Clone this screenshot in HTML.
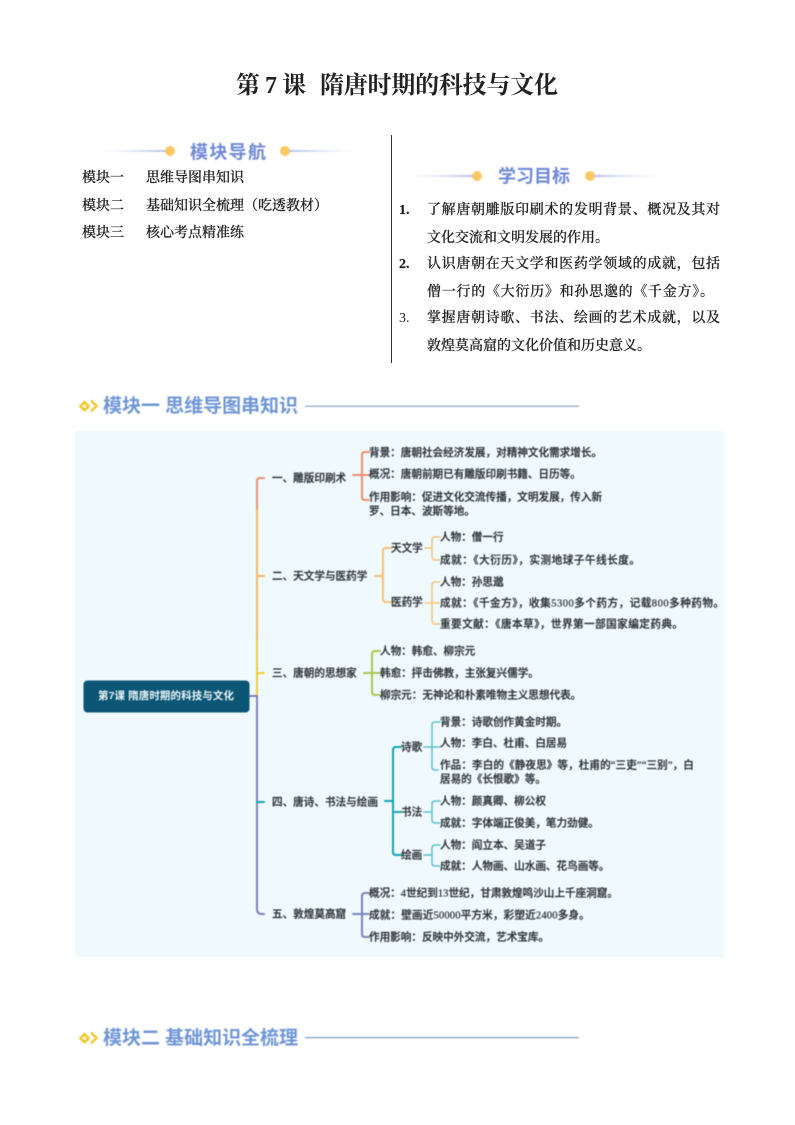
<!DOCTYPE html>
<html lang="zh-CN">
<head>
<meta charset="utf-8">
<title>第 7 课 隋唐时期的科技与文化</title>
<style>
html,body{margin:0;padding:0;background:#fff;width:795px;height:1125px;overflow:hidden}
svg{display:block;position:absolute;left:0;top:0}
text{dominant-baseline:central}
.title{font-family:"Liberation Serif","Noto Serif CJK SC",serif;font-size:24px;font-weight:700;fill:#222;transform:translateY(1px)}
.s{font-family:"Liberation Serif","Noto Serif CJK SC",serif;font-size:14px;fill:#222;font-weight:500;stroke:#222;stroke-width:.2;transform:translateY(1.7px)}
.h{font-family:"Liberation Sans","Noto Sans CJK SC",sans-serif;font-size:18px;font-weight:700;fill:#7089d8;transform:translateY(.5px)}
.sec{font-family:"Liberation Sans","Noto Sans CJK SC",sans-serif;font-size:19px;font-weight:700;fill:#6f96d6;transform:translateY(.6px)}
.m{font-family:"Liberation Serif","Noto Sans CJK SC",sans-serif;font-size:10.6px;font-weight:500;fill:#2a2f33;stroke:#2a2f33;stroke-width:.22;transform:translateY(1px)}
.r{font-family:"Liberation Sans","Noto Sans CJK SC",sans-serif;font-size:10.5px;font-weight:700;fill:#eef6fa}
.c{fill:none;stroke-width:2;stroke-linecap:round}
.t{stroke-width:1.5}
.b{filter:blur(.4px)}
</style>
</head>
<body>
<svg width="795" height="1125" viewBox="0 0 795 1125" xmlns="http://www.w3.org/2000/svg">
<defs>
<linearGradient id="gl" x1="0" x2="1" y1="0" y2="0"><stop offset="0" stop-color="#dfe6f5" stop-opacity="0"/><stop offset="1" stop-color="#b0c0e6"/></linearGradient>
<linearGradient id="gr" x1="0" x2="1" y1="0" y2="0"><stop offset="0" stop-color="#b0c0e6"/><stop offset="1" stop-color="#dfe6f5" stop-opacity="0"/></linearGradient>
</defs>
<rect width="795" height="1125" fill="#fff"/>

<text class="title" x="236" y="85" textLength="70" lengthAdjust="spacing">第 7 课</text>
<text class="title" x="320" y="85" textLength="238" lengthAdjust="spacing">隋唐时期的科技与文化</text>

<!-- left nav -->
<g class="b">
<rect x="98" y="150" width="68" height="2" fill="url(#gl)"/>
<circle cx="170" cy="151" r="5" fill="#fcc862"/>
<text class="h" x="190" y="152" textLength="76">模块导航</text>
<circle cx="285" cy="151" r="5" fill="#fcc862"/>
<rect x="289" y="150" width="72" height="2" fill="url(#gr)"/>
</g>
<text class="s" x="82" y="177">模块一</text><text class="s" x="146" y="177">思维导图串知识</text>
<text class="s" x="82" y="205">模块二</text><text class="s" x="146" y="205">基础知识全梳理（吃透教材）</text>
<text class="s" x="82" y="232">模块三</text><text class="s" x="146" y="232">核心考点精准练</text>
<rect x="391" y="135" width="1" height="228" fill="#333"/>

<!-- right goals -->
<g class="b">
<rect x="405" y="175" width="68" height="2" fill="url(#gl)"/>
<circle cx="477" cy="176" r="5" fill="#fcc862"/>
<text class="h" x="498" y="176" textLength="72">学习目标</text>
<circle cx="590" cy="176" r="5" fill="#fcc862"/>
<rect x="594" y="175" width="72" height="2" fill="url(#gr)"/>
</g>
<text class="s" x="399" y="209" style="font-weight:700">1.</text>
<text class="s" x="427" y="209" textLength="293">了解唐朝雕版印刷术的发明背景、概况及其对</text>
<text class="s" x="427" y="237">文化交流和文明发展的作用。</text>
<text class="s" x="399" y="263" style="font-weight:700">2.</text>
<text class="s" x="427" y="263" textLength="293">认识唐朝在天文学和医药学领域的成就，包括</text>
<text class="s" x="427" y="291" textLength="287">僧一行的《大衍历》和孙思邈的《千金方》。</text>
<text class="s" x="399" y="317" style="font-weight:400;stroke-width:0">3.</text>
<text class="s" x="427" y="317" textLength="293">掌握唐朝诗歌、书法、绘画的艺术成就，以及</text>
<text class="s" x="427" y="345">敦煌莫高窟的文化价值和历史意义。</text>

<!-- section 1 heading -->
<g class="b">
<path d="M84.5 402l4.2 4.2-4.2 4.2-4.2-4.2z" fill="#fff3c0" stroke="#f3c531" stroke-width="2.4"/>
<path d="M91 400.5l5.5 5.5-5.5 5.5" fill="none" stroke="#f3c531" stroke-width="2.4"/>
<text class="sec" x="103" y="406" textLength="195">模块一 思维导图串知识</text>
<rect x="305" y="405.6" width="274" height="1.2" fill="#8aa6cc"/>
</g>

<!-- panel -->
<rect x="75" y="431" width="649" height="526" fill="#eff9fe"/>

<g class="b">
<!-- trunk -->
<path class="c" stroke="#ef8f6a" d="M264 478H260Q257 478 257 481V510"/>
<path class="c" stroke="#f5b85c" d="M257 510V640M257 576H264"/>
<path class="c" stroke="#f3cc3a" d="M257 640V696M257 677Q257 673 260 673H264" stroke-width="2.4"/>
<path class="c" stroke="#7b84ba" d="M249 696H257V909Q257 914 262 914H264"/>
<path class="c" stroke="#14a5b4" d="M257 802H264"/>
<!-- root -->
<rect x="83.5" y="680.5" width="166" height="32" rx="4" fill="#0c5574"/>
<text class="r" x="98" y="696" textLength="136">第7课 隋唐时期的科技与文化</text>

<!-- level 1 labels -->
<text class="m" x="272" y="478">一、雕版印刷术</text>
<text class="m" x="272" y="576">二、天文学与医药学</text>
<text class="m" x="272" y="673">三、唐朝的思想家</text>
<text class="m" x="272" y="802">四、唐诗、书法与绘画</text>
<text class="m" x="272" y="914">五、敦煌莫高窟</text>

<!-- 一 -->
<path class="c" stroke="#ef8f6a" d="M353 475H369M369 452H365Q362 452 362 455V497Q362 500 365 500H369"/>
<text class="m" x="369" y="452.5">背景：唐朝社会经济发展，对精神文化需求增长。</text>
<text class="m" x="369" y="474">概况：唐朝前期已有雕版印刷书籍、日历等。</text>
<text class="m" x="369" y="497">作用影响：促进文化交流传播，文明发展，传入新</text>
<text class="m" x="369" y="511">罗、日本、波斯等地。</text>

<!-- 二 -->
<path class="c" stroke="#f5c27a" d="M375 576H383M391 548H386Q383 548 383 551V599Q383 602 386 602H391"/>
<text class="m" x="391" y="548">天文学</text>
<text class="m" x="391" y="602">医药学</text>
<path class="c t" stroke="#f5c27a" d="M425 548H432M440 537H435Q432 537 432 540V557Q432 560 435 560H440"/>
<path class="c t" stroke="#f5c27a" d="M425 603H440M440 582H435Q432 582 432 585V621Q432 624 435 624H440"/>
<text class="m" x="440" y="537">人物：僧一行</text>
<text class="m" x="440" y="560" textLength="200">成就：《大衍历》，实测地球子午线长度。</text>
<text class="m" x="440" y="582">人物：孙思邈</text>
<text class="m" x="440" y="603" textLength="284">成就：《千金方》，收集5300多个药方，记载800多种药物。</text>
<text class="m" x="440" y="624" textLength="243">重要文献：《唐本草》，世界第一部国家编定药典。</text>

<!-- 三 -->
<path class="c" stroke="#a9c950" d="M364 673H380M380 651H375Q372 651 372 654V692Q372 695 375 695H380"/>
<text class="m" x="380" y="651">人物：韩愈、柳宗元</text>
<text class="m" x="380" y="673">韩愈：抨击佛教，主张复兴儒学。</text>
<text class="m" x="380" y="695">柳宗元：无神论和朴素唯物主义思想代表。</text>

<!-- 四 -->
<path class="c" stroke="#14a5b4" d="M385 801H393M401 747H396Q393 747 393 750V852Q393 855 396 855H401M393 812H401"/>
<text class="m" x="401" y="747">诗歌</text>
<text class="m" x="401" y="812">书法</text>
<text class="m" x="401" y="855">绘画</text>
<path class="c t" stroke="#5cc0c8" d="M424 747H440M440 722H435Q432 722 432 725V767Q432 770 435 770H438"/>
<path class="c t" stroke="#5cc0c8" d="M424 812H432M440 801H435Q432 801 432 804V820Q432 823 435 823H440"/>
<path class="c t" stroke="#5cc0c8" d="M424 855H432M440 845H435Q432 845 432 848V863Q432 866 435 866H440"/>
<text class="m" x="440" y="722">背景：诗歌创作黄金时期。</text>
<text class="m" x="440" y="743">人物：李白、杜甫、白居易</text>
<text class="m" x="440" y="765" style="letter-spacing:.08px">作品：李白的《静夜思》等，杜甫的“三吏”“三别”，白</text>
<text class="m" x="440" y="779">居易的《长恨歌》等。</text>
<text class="m" x="440" y="801">人物：颜真卿、柳公权</text>
<text class="m" x="440" y="823">成就：字体端正俊美，笔力劲健。</text>
<text class="m" x="440" y="845">人物：阎立本、吴道子</text>
<text class="m" x="440" y="866">成就：人物画、山水画、花鸟画等。</text>

<!-- 五 -->
<path class="c" stroke="#7b84ba" d="M353 914H369M369 893H365Q362 893 362 896V934Q362 937 365 937H369"/>
<text class="m" x="369" y="893">概况：4世纪到13世纪，甘肃敦煌鸣沙山上千座洞窟。</text>
<text class="m" x="369" y="915" style="letter-spacing:.15px">成就：壁画近50000平方米，彩塑近2400多身。</text>
<text class="m" x="369" y="937">作用影响：反映中外交流，艺术宝库。</text>
</g>

<!-- section 2 heading -->
<g class="b">
<path d="M84.5 1034l4.2 4.2-4.2 4.2-4.2-4.2z" fill="#fff3c0" stroke="#f3c531" stroke-width="2.4"/>
<path d="M91 1032.5l5.5 5.5-5.5 5.5" fill="none" stroke="#f3c531" stroke-width="2.4"/>
<text class="sec" x="103" y="1038" textLength="195">模块二 基础知识全梳理</text>
<rect x="305" y="1037" width="274" height="1.2" fill="#7f9cc6"/>
</g>
</svg>
</body>
</html>
